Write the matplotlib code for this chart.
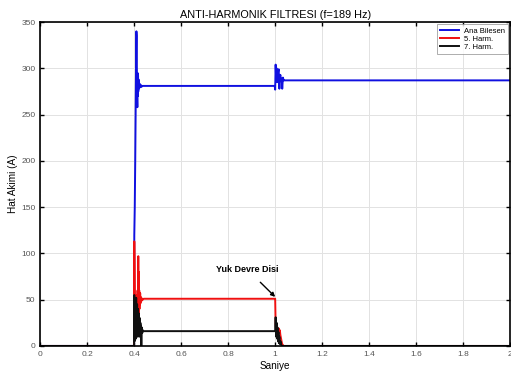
import matplotlib
matplotlib.use("Agg")
import matplotlib.pyplot as plt

plt.rcParams["font.family"] = ["Liberation Sans", "DejaVu Sans"]

# Ana Bilesen (fundamental)
t_ana = [0, 0.399, 0.400, 0.402, 0.404, 0.406, 0.408, 0.409, 0.410, 0.411,
         0.412, 0.413, 0.414, 0.415, 0.416, 0.417, 0.418, 0.419, 0.420, 0.422,
         0.424, 0.426, 0.428, 0.430, 0.435,
         0.998, 1.000, 1.002, 1.004, 1.006, 1.008, 1.010, 1.012, 1.015, 1.018,
         1.020, 1.022, 1.025, 1.028, 1.030, 1.033, 1.036, 1.040, 2.0]
i_ana = [0, 0, 120, 150, 200, 260, 320, 340, 335, 300,
         270, 258, 295, 270, 292, 275, 288, 278, 285, 279,
         283, 280, 282, 280, 281,
         281, 277, 304, 290, 300, 285, 298, 296, 299, 278,
         290, 293, 286, 289, 278, 290, 287, 287, 287]

# 5. harmonik
t_h5 = [0, 0.399,
        0.400, 0.401, 0.402, 0.403, 0.404, 0.405, 0.406, 0.407, 0.408, 0.409,
        0.410, 0.411, 0.412, 0.413, 0.414, 0.415, 0.416, 0.417, 0.418, 0.419,
        0.420, 0.421, 0.422, 0.423, 0.424, 0.425, 0.426, 0.427, 0.428,
        0.430, 0.432, 0.434, 0.436, 0.440,
        0.998, 1.000, 1.002, 1.004, 1.006, 1.008, 1.010, 1.012, 1.015, 1.018,
        1.020, 1.022, 1.025, 1.028, 1.030, 1.033, 1.036, 2.0]
i_h5 = [0, 0,
        113, 90, 60, 30, 45, 20, 40, 25, 50, 30,
        55, 35, 45, 40, 60, 42, 30, 97, 45, 80,
        35, 60, 40, 55, 45, 57, 46, 53, 48,
        52, 49, 51, 50, 51,
        51, 51, 22, 17, 19, 15, 18, 16, 19, 14,
        17, 12, 8, 4, 2, 1, 0, 0]

# 7. harmonik
t_h7 = [0, 0.399,
        0.400, 0.401, 0.402, 0.403, 0.404, 0.405, 0.406, 0.407, 0.408, 0.409,
        0.410, 0.411, 0.412, 0.413, 0.414, 0.415, 0.416, 0.417, 0.418, 0.419,
        0.420, 0.421, 0.422, 0.423, 0.424, 0.425, 0.426, 0.427, 0.428, 0.429,
        0.430, 0.432, 0.434, 0.436, 0.440,
        0.998, 1.000, 1.002, 1.004, 1.006, 1.008, 1.010, 1.012, 1.014, 1.016,
        1.018, 1.020, 1.023, 1.026, 1.030, 2.0]
i_h7 = [0, 0,
        55, 5, 50, 10, 45, 15, 40, 8, 52, 12,
        38, 20, 45, 10, 35, 25, 40, 15, 30, 20,
        35, 10, 28, 18, 30, 12, 25, 15, 22, 10,
        0, 20, 14, 17, 16,
        16, 16, 31, 10, 25, 8, 20, 5, 15, 3,
        10, 2, 5, 1, 0, 0]

x_ticks = [0, 0.2, 0.4, 0.6, 0.8, 1, 1.2, 1.4, 1.6, 1.8, 2]
x_labels = ["0", "0.2", "0.4", "0.6", "0.8", "1", "1.2", "1.4", "1.6", "1.8", "2"]
y_ticks = [0, 50, 100, 150, 200, 250, 300, 350]

fig = plt.figure(figsize=(5.11, 3.74), dpi=100)
ax = fig.add_axes([0.079, 0.075, 0.919, 0.866])

ax.plot(t_ana, i_ana, color="#1010e0", lw=1.4, label="Ana Bilesen")
ax.plot(t_h5, i_h5, color="#f01010", lw=1.4, label="5. Harm.")
ax.plot(t_h7, i_h7, color="#101010", lw=1.4, label="7. Harm.")

ax.set_xlim(0, 2)
ax.set_ylim(0, 350)
ax.set_xticks(x_ticks)
ax.set_xticklabels(x_labels)
ax.set_yticks(y_ticks)
ax.grid(True, color="#e2e2e2", lw=0.7)
ax.tick_params(direction="in", top=True, right=True, labelsize=6,
               labelcolor="#555555", length=3, width=1)
for s in ax.spines.values():
    s.set_linewidth(1.2)

ax.set_title("ANTI-HARMONIK FILTRESI (f=189 Hz)", fontsize=7.8, pad=3)
ax.set_xlabel("Saniye", fontsize=7.2, labelpad=2)
ax.set_ylabel("Hat Akimi (A)", fontsize=7.2, labelpad=2)

ax.annotate("Yuk Devre Disi", xy=(1.0, 53), xytext=(0.88, 83),
            fontsize=6.5, fontweight="bold", ha="center", va="center",
            arrowprops=dict(arrowstyle="-|>", color="black", lw=1,
                            shrinkA=6, shrinkB=0, mutation_scale=6))

leg = ax.legend(loc="upper right", fontsize=5.5, handlelength=2.5,
                fancybox=False, borderpad=0.4, labelspacing=0.1,
                handletextpad=0.6, borderaxespad=0.3)
leg.get_frame().set_edgecolor("#888888")
leg.get_frame().set_linewidth(0.6)

fig.savefig("out.png", dpi=100)
